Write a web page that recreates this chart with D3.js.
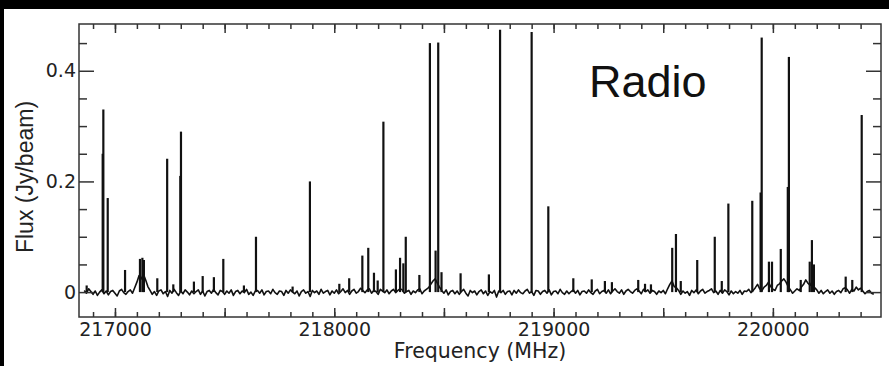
<!DOCTYPE html>
<html>
<head>
<meta charset="utf-8">
<script src="https://cdn.jsdelivr.net/npm/d3@7"></script>
<style>
  body { margin: 0; background: #fff; }
  svg { display: block; }
</style>
</head>
<body>
<svg id="chart" width="889" height="366"></svg>
<script>
// baseline of the spectrum, sampled every noiseStep MHz from noiseStart (values in mJy)
var noiseStart = 216860;
var noiseStep = 10;
var noise = [
	 3, -2,  6,  1, -4,  2, -6,  0,  4, -3,
	 2, -5,  1,  3, -2, -7,  2,  5, -1, -4,
	 1,  4, -2,  8, 18, 30, 24, 32, 22, 10,
	 3, -4,  1, -6,  2,  4, -3,  1, -8,  3,
	-2,  5, -1, -6,  2, -3,  4,  0, -5,  2,
	-3,  1,  4, -4,  2, -7,  1,  3, -2,  5,
	-1, -5,  3,  1, -4,  2, -2,  4, -6,  1,
	 3, -3,  2, -1,  5, -4,  0, -6,  2,  3,
	-2,  4, -5,  1,  2, -3,  5, -1, -4,  2,
	 1, -6,  3, -2,  4,  0, -3,  2, -7,  1,
	 4, -2,  1, -8,  3, -1,  2, -4,  5, -2,
	 1,  3, -5,  2, -2,  4, -3,  1,  6, -1,
	 3, -4,  2,  5, -2,  1,  7,  3, -1,  4,
	 6, -2,  3,  1, -4,  5,  2, -1,  4, -3,
	 2,  5, -1,  3,  6,  4, -2,  1,  3, -4,
	 2, -1,  4,  6, -3,  2,  5,  8, 14, 20,
	24, 16,  9,  3, -2,  4, -5,  1,  3, -3,
	 2, -4,  1,  5, -2, -7,  3, -1,  2, -5,
	 1,  4, -3,  2, -6,  1, -2,  3, -9,  2,
	-1,  3, -4,  1,  2, -5,  3, -2,  4, -1,
	-3,  2,  5, -2,  1, -6,  3,  2, -4,  1,
	 3, -2,  4, -5,  1,  2, -3,  5, -1, -4,
	 2, -3,  1,  4, -2,  3, -5,  1,  2, -2,
	 4, -1, -4,  2,  5, -3,  1,  3, -2,  4,
	-3,  2,  6,  1, -2,  4, -4,  2,  5,  1,
	-2,  3,  6,  2, -3,  5,  1,  4, -2,  3,
	 1, -4,  2, -1,  3, -3,  6, 14, 20, 10,
	 8,  3, -4,  2, -2,  1, -6,  3, -1,  4,
	-3,  2,  5, -2,  1,  3,  6, -1,  2, -4,
	 3, -2,  4,  1, -5,  2, -3,  1, -2,  3,
	-4,  2,  1,  5, -1,  3,  8, 14,  6,  3,
	 9, 12, 18, 10,  5,  3, 12, 15, 20, 24,
	18, 10,  4, -2,  2,  6,  3,  9, 14, 22,
	16, 12, 20,  8,  4, -2,  3, -3,  1,  4,
	-2,  2, -4,  1,  3, -1,  6,  8,  4, -2,
	 5,  2,  9,  4,  7,  2, -3,  1,  3, -2,
	-4
];

// emission lines: frequency (MHz) and peak flux (Jy/beam)
var peakFreq = [
	216871, 216944, 216947, 216967, 217046, 217114, 217125, 217132, 217193, 217238,
	217266, 217298, 217301, 217360, 217400, 217451, 217494, 217588, 217643, 217810,
	217889, 218023, 218068, 218128, 218155, 218181, 218198, 218224, 218281, 218300,
	218315, 218326, 218388, 218436, 218462, 218474, 218489, 218576, 218705, 218756,
	218900, 218976, 219090, 219174, 219234, 219266, 219386, 219417, 219444, 219541,
	219558, 219580, 219655, 219735, 219767, 219797, 219906, 219944, 219949, 219982,
	219996, 220036, 220068, 220073, 220127, 220168, 220178, 220187, 220332, 220362,
	220405
];
var peakFlux = [
	0.012, 0.250, 0.330, 0.170, 0.040, 0.060, 0.062, 0.058, 0.025, 0.241,
	0.014, 0.210, 0.290, 0.019, 0.029, 0.027, 0.060, 0.012, 0.100, 0.010,
	0.200, 0.015, 0.025, 0.066, 0.080, 0.035, 0.021, 0.308, 0.041, 0.062,
	0.052, 0.100, 0.031, 0.450, 0.075, 0.451, 0.036, 0.034, 0.032, 0.474,
	0.470, 0.155, 0.025, 0.023, 0.020, 0.018, 0.022, 0.015, 0.014, 0.080,
	0.105, 0.020, 0.058, 0.100, 0.020, 0.160, 0.165, 0.180, 0.460, 0.055,
	0.055, 0.078, 0.190, 0.425, 0.022, 0.055, 0.094, 0.050, 0.028, 0.022,
	0.320
];

// axes
var xDomain = [216836, 220493];
var yDomain = [-0.045, 0.4845];
var xMinorTicks = d3.range(216900, 220500, 100);
var xMajorTicks = [217000, 217500, 218000, 218500, 219000, 219500, 220000];
var xLabelTicks = [217000, 218000, 219000, 220000];
var yMinorTicks = [0.05, 0.1, 0.15, 0.25, 0.3, 0.35, 0.45];
var yMajorTicks = [0, 0.2, 0.4];
var yLabels = ["0", "0.2", "0.4"];

var plotLeft = 79, plotRight = 881, plotTop = 24, plotBottom = 317;

var svg = d3.select("#chart");

// black frame round the picture, white sheet inside
svg.append("rect").attr("x", 0).attr("y", 0).attr("width", 889).attr("height", 366).attr("fill", "#000");
svg.append("rect").attr("x", 4).attr("y", 9).attr("width", 885).attr("height", 357).attr("fill", "#fff");

var x = d3.scaleLinear().domain(xDomain).range([plotLeft, plotRight]);
var y = d3.scaleLinear().domain(yDomain).range([plotBottom, plotTop]);

var line = d3.line()
	.x(function(d) { return x(d[0]); })
	.y(function(d) { return y(d[1]); });

// baseline noise
var noisePts = noise.map(function(v, i) { return [noiseStart + i * noiseStep, v / 1000]; });
svg.append("path")
	.datum(noisePts)
	.attr("d", line)
	.attr("fill", "none")
	.attr("stroke", "#111")
	.attr("stroke-width", 1.6)
	.attr("stroke-linejoin", "round");

// the lines themselves, as spikes up from zero
var spikes = svg.append("g");
peakFreq.forEach(function(f, i) {
	spikes.append("path")
		.datum([[f, 0], [f, peakFlux[i]]])
		.attr("d", line)
		.attr("stroke", "#111")
		.attr("stroke-width", 2.2);
});

// ticks, all pointing inward
function styleAxis(g) {
	g.select(".domain").remove();
	g.selectAll(".tick line").attr("stroke", "#333").attr("stroke-width", 1.5);
	g.selectAll("text").attr("fill", "#222");
}

svg.append("g").attr("transform", "translate(0," + plotBottom + ")")
	.call(d3.axisBottom(x).tickValues(xMinorTicks).tickSize(-5).tickFormat(""))
	.call(styleAxis);
svg.append("g").attr("transform", "translate(0," + plotBottom + ")")
	.call(d3.axisBottom(x).tickValues(xMajorTicks).tickSize(-9).tickPadding(6)
		.tickFormat(function(d) { return xLabelTicks.indexOf(d) >= 0 ? d : ""; }))
	.call(styleAxis)
	.selectAll("text").style("font-family", "DejaVu Sans").style("font-size", "19px");

svg.append("g").attr("transform", "translate(0," + plotTop + ")")
	.call(d3.axisTop(x).tickValues(xMinorTicks).tickSize(-5).tickFormat(""))
	.call(styleAxis);
svg.append("g").attr("transform", "translate(0," + plotTop + ")")
	.call(d3.axisTop(x).tickValues(xMajorTicks).tickSize(-9).tickFormat(""))
	.call(styleAxis);

svg.append("g").attr("transform", "translate(" + plotLeft + ",0)")
	.call(d3.axisLeft(y).tickValues(yMinorTicks).tickSize(-8).tickFormat(""))
	.call(styleAxis);
svg.append("g").attr("transform", "translate(" + plotLeft + ",0)")
	.call(d3.axisLeft(y).tickValues(yMajorTicks).tickSize(-15).tickPadding(3)
		.tickFormat(function(d, i) { return yLabels[i]; }))
	.call(styleAxis)
	.selectAll("text").style("font-family", "DejaVu Sans").style("font-size", "19px");

svg.append("g").attr("transform", "translate(" + plotRight + ",0)")
	.call(d3.axisRight(y).tickValues(yMinorTicks).tickSize(-8).tickFormat(""))
	.call(styleAxis);
svg.append("g").attr("transform", "translate(" + plotRight + ",0)")
	.call(d3.axisRight(y).tickValues(yMajorTicks).tickSize(-15).tickFormat(""))
	.call(styleAxis);

// plot frame
svg.append("rect")
	.attr("x", plotLeft).attr("y", plotTop)
	.attr("width", plotRight - plotLeft).attr("height", plotBottom - plotTop)
	.attr("fill", "none").attr("stroke", "#333").attr("stroke-width", 1.5);

// titles
svg.append("text")
	.attr("x", (plotLeft + plotRight) / 2).attr("y", 358)
	.attr("text-anchor", "middle")
	.style("font-family", "DejaVu Sans").style("font-size", "20.5px")
	.attr("fill", "#222")
	.text("Frequency (MHz)");

svg.append("text")
	.attr("transform", "translate(33,177) rotate(-90)")
	.attr("text-anchor", "middle")
	.style("font-family", "Liberation Sans").style("font-size", "23px")
	.attr("fill", "#222")
	.text("Flux (Jy/beam)");

svg.append("text")
	.attr("x", 589).attr("y", 97)
	.style("font-family", "Liberation Sans").style("font-size", "45px")
	.attr("fill", "#111")
	.text("Radio");
</script>
</body>
</html>
